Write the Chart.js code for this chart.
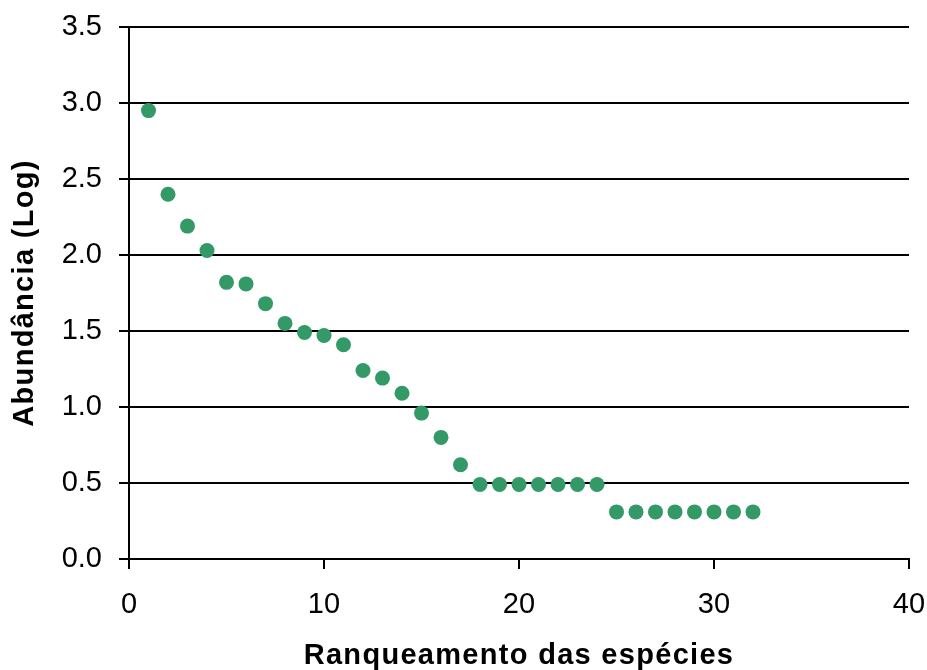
<!DOCTYPE html>
<html>
<head>
<meta charset="utf-8">
<script src="https://cdn.jsdelivr.net/npm/chart.js@4/dist/chart.umd.min.js"></script>
<style>
html,body{margin:0;padding:0;background:#fff;}
#wrap{width:927px;height:670px;position:relative;}
</style>
</head>
<body>
<div id="wrap"><canvas id="c" width="927" height="670"></canvas></div>
<script>
const ranks = [1,2,3,4,5,6,7,8,9,10,11,12,13,14,15,16,17,18,19,20,21,22,23,24,25,26,27,28,29,30,31,32];
const abundance = [2.95,2.40,2.19,2.03,1.82,1.81,1.68,1.55,1.49,1.47,1.41,1.24,1.19,1.09,0.96,0.80,0.62,0.49,0.49,0.49,0.49,0.49,0.49,0.49,0.31,0.31,0.31,0.31,0.31,0.31,0.31,0.31];
const xTitle = "Ranqueamento das espécies";
const yTitle = "Abundância (Log)";

const FONT = "'Liberation Sans', Arial, sans-serif";
const pts = ranks.map((r,i)=>({x:r,y:abundance[i]}));

// slightly wider letter spacing for axis titles, as in the reference
const origDrawTitle = Chart.Scale.prototype.drawTitle;
Chart.Scale.prototype.drawTitle = function() {
  const ctx = this.ctx;
  ctx.save();
  try { ctx.letterSpacing = '1.3px'; } catch(e) {}
  origDrawTitle.call(this);
  ctx.restore();
};

new Chart(document.getElementById('c'), {
  type: 'scatter',
  data: { datasets: [{
    data: pts,
    backgroundColor: '#339966',
    borderColor: '#339966',
    pointRadius: 7.5,
    pointHoverRadius: 7.5,
    borderWidth: 0
  }]},
  options: {
    responsive: false,
    animation: false,
    layout: { padding: { left: 0, right: 18, top: 27, bottom: 0 } },
    plugins: { legend: { display: false }, tooltip: { enabled: false } },
    scales: {
      x: {
        type: 'linear', min: 0, max: 40,
        ticks: { stepSize: 10, color: '#000', font: { family: FONT, size: 29 }, padding: 19, maxRotation: 0 },
        grid: { drawOnChartArea: false, color: '#000', lineWidth: 2, tickLength: 10 },
        border: { color: '#000', width: 2 },
        title: { display: true, text: xTitle, color: '#000', font: { family: FONT, size: 29, weight: 'bold', lineHeight: 0.8 }, padding: { top: 0, bottom: 2 } },
        afterFit: s => { s.height = 111; s.paddingLeft = 0; s.paddingRight = 0; }
      },
      y: {
        type: 'linear', min: 0, max: 3.5,
        ticks: { stepSize: 0.5, color: '#000', font: { family: FONT, size: 29 }, padding: 17, callback: v => v.toFixed(1) },
        grid: { color: '#000', lineWidth: 2, tickLength: 10 },
        border: { color: '#000', width: 2 },
        title: { display: true, text: yTitle, color: '#000', font: { family: FONT, size: 29, weight: 'bold', lineHeight: 0.8 }, padding: { top: 13.7, bottom: 0 } },
        afterFit: s => { s.width = 129; s.paddingTop = 0; s.paddingBottom = 0; }
      }
    }
  }
});
</script>
</body>
</html>
